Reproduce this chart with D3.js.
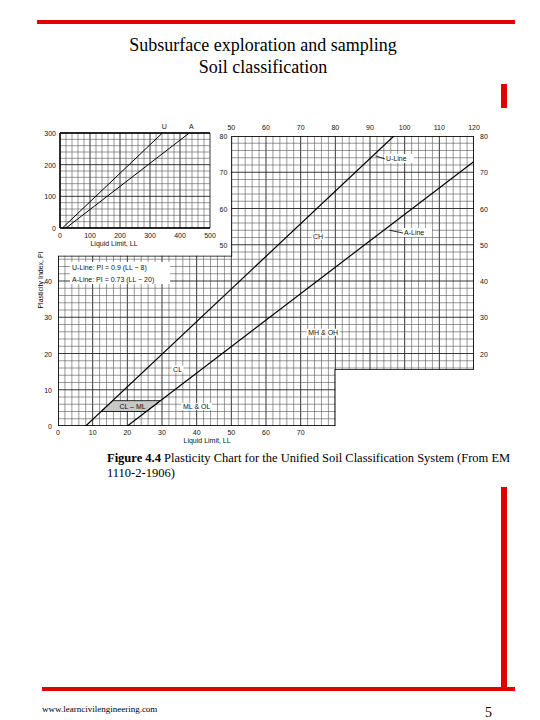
<!DOCTYPE html>
<html><head><meta charset="utf-8">
<script src="https://cdn.jsdelivr.net/npm/d3@7"></script>
<style>body{margin:0;background:#fff}</style></head>
<body><svg id="c" width="540" height="720"></svg>
<script>
const bottomTicks=[0,10,20,30,40,50,60,70];
const topTicks=[50,60,70,80,90,100,110,120];
const leftTicks=[0,10,20,30,40];
const midTicks=[50,60,70,80];
const rightTicks=[20,30,40,50,60,70,80];
const insetX=[0,100,200,300,400,500];
const insetY=[0,100,200,300];
const uLine={slope:0.9,offset:8};
const aLine={slope:0.73,offset:20};
const clMl=[[12.44,4],[15.78,7],[29.59,7],[25.48,4]];
const visibleArea=[[0,0],[80,0],[80,15.5],[120,15.5],[120,80],[50,80],[50,47],[0,47]];
const zoneLabels=[{t:"CH",x:75,y:52.5},{t:"MH & OH",x:76.5,y:26},{t:"CL",x:34.5,y:15.8},{t:"ML & OL",x:40,y:5.5},{t:"CL – ML",x:21.5,y:5.5}];

const svg=d3.select("#c");
const F="Liberation Sans, Arial, sans-serif";
const x=d3.scaleLinear([0,120],[58,474]);
const y=d3.scaleLinear([0,80],[426,136]);
const red="#e00000";
svg.append("rect").attr("x",37).attr("y",20).attr("width",478).attr("height",4).attr("fill",red);
svg.append("rect").attr("x",501).attr("y",84).attr("width",6).attr("height",24).attr("fill",red);
svg.append("rect").attr("x",501).attr("y",487).attr("width",6).attr("height",204).attr("fill",red);
svg.append("rect").attr("x",42).attr("y",687).attr("width",473).attr("height",4).attr("fill",red);
const T="Liberation Serif, Times New Roman, serif";
svg.append("text").attr("x",263).attr("y",51).attr("text-anchor","middle").attr("font-family",T).attr("font-size",18).text("Subsurface exploration and sampling");
svg.append("text").attr("x",263).attr("y",73).attr("text-anchor","middle").attr("font-family",T).attr("font-size",18).text("Soil classification");
svg.append("text").attr("x",42).attr("y",712).attr("font-family",T).attr("font-size",9).text("www.learncivilengineering.com");
svg.append("text").attr("x",485).attr("y",717).attr("font-family",T).attr("font-size",14).text("5");

const line=d3.line().x(d=>x(d[0])).y(d=>y(d[1]));
svg.append("clipPath").attr("id","va").append("path").attr("d",line(visibleArea)+"Z");
const g=svg.append("g").attr("clip-path","url(#va)");
for(let v=0;v<=120;v+=2){g.append("line").attr("x1",x(v)).attr("x2",x(v)).attr("y1",y(0)).attr("y2",y(80)).attr("stroke",v%10==0?"#222":"#555").attr("stroke-width",v%10==0?0.9:0.6);}
for(let v=0;v<=80;v+=2){g.append("line").attr("x1",x(0)).attr("x2",x(120)).attr("y1",y(v)).attr("y2",y(v)).attr("stroke",v%10==0?"#222":"#555").attr("stroke-width",v%10==0?0.9:0.6);}
g.append("path").attr("d",line(clMl)+"Z").attr("fill","#c8c8c8").attr("stroke","#000").attr("stroke-width",0.8);
const ln=(o)=>{const x0=o.offset;const x1=Math.min(120,o.offset+80/o.slope);return [[x0,0],[x1,o.slope*(x1-o.offset)]];};
g.append("path").attr("d",line(ln(uLine))).attr("stroke","#000").attr("stroke-width",1.2).attr("fill","none");
g.append("path").attr("d",line(ln(aLine))).attr("stroke","#000").attr("stroke-width",1.2).attr("fill","none");
g.append("path").attr("d",line(visibleArea)+"Z").attr("fill","none").attr("stroke","#000").attr("stroke-width",1.6);
const lab=(t,px,py,a,fs)=>svg.append("text").attr("x",px).attr("y",py).attr("text-anchor",a||"middle").attr("font-family",F).attr("font-size",fs||7).attr("fill","#111").text(t);
const boxed=(t,px,py,bg)=>{const el=lab(t,px,py);const b=el.node().getBBox();svg.append("rect").attr("x",b.x-1.5).attr("y",b.y).attr("width",b.width+3).attr("height",b.height).attr("fill",bg||"#fff");el.raise();};
bottomTicks.forEach(v=>lab(v,x(v),435));
topTicks.forEach(v=>lab(v,x(v),130));
leftTicks.forEach(v=>lab(v,52,y(v)+3,"end"));
midTicks.forEach(v=>lab(v,x(50)-4,y(v)+3,"end"));
rightTicks.forEach(v=>lab(v,x(120)+6,y(v)+3,"start"));
zoneLabels.forEach(d=>boxed(d.t,x(d.x),y(d.y)+3,d.t.startsWith("CL –")?"#c8c8c8":"#fff"));
lab("Liquid Limit, LL",x(43),443);
svg.append("text").attr("transform","translate(43,280) rotate(-90)").attr("text-anchor","middle").attr("font-family",F).attr("font-size",7).text("Plasticity Index, PI");
svg.append("rect").attr("x",70).attr("y",262).attr("width",100).attr("height",22).attr("fill","#fff");
lab("U-Line: PI = 0.9 (LL − 8)",72,270,"start");
lab("A-Line: PI = 0.73 (LL − 20)",72,282,"start");
[["U-Line",91,74.5,385,161],["A-Line",95,54,403,235]].forEach(d=>{
 svg.append("rect").attr("x",d[3]-1).attr("y",d[4]-7).attr("width",30).attr("height",9).attr("fill","#fff");
 svg.append("line").attr("x1",x(d[1])+2).attr("y1",y(d[2])).attr("x2",d[3]).attr("y2",d[4]-2).attr("stroke","#000").attr("stroke-width",0.8);
 lab(d[0],d[3]+1,d[4],"start");
});
const ix=d3.scaleLinear([0,500],[60,210]);
const iy=d3.scaleLinear([0,300],[228,133]);
const ig=svg.append("g");
for(let v=0;v<=500;v+=20)ig.append("line").attr("x1",ix(v)).attr("x2",ix(v)).attr("y1",iy(0)).attr("y2",iy(300)).attr("stroke",v%100==0?"#222":"#555").attr("stroke-width",v%100==0?0.9:0.6);
for(let v=0;v<=300;v+=20)ig.append("line").attr("x1",ix(0)).attr("x2",ix(500)).attr("y1",iy(v)).attr("y2",iy(v)).attr("stroke",v%100==0?"#222":"#555").attr("stroke-width",v%100==0?0.9:0.6);
[[0,300,500,300],[0,0,0,300],[0,0,500,0]].forEach(s=>ig.append("line").attr("x1",ix(s[0])).attr("y1",iy(s[1])).attr("x2",ix(s[2])).attr("y2",iy(s[3])).attr("stroke","#000").attr("stroke-width",1.4));
const il=d3.line().x(d=>ix(d[0])).y(d=>iy(d[1]));
[uLine,aLine].forEach((o,i)=>{const x1=o.offset+300/o.slope;ig.append("path").attr("d",il([[o.offset,0],[x1,300]])).attr("stroke","#000").attr("stroke-width",1).attr("fill","none");lab(i?"A":"U",ix(x1)+2,iy(300)-4);});
insetX.forEach(v=>lab(v,ix(v),238));
insetY.forEach(v=>lab(v,ix(0)-4,iy(v)+3,"end"));
lab("Liquid Limit, LL",ix(180),246);
svg.append("text").attr("x",107).attr("y",462).attr("font-family",T).attr("font-size",12.5).html('<tspan font-weight="bold">Figure 4.4</tspan>   Plasticity Chart for the Unified Soil Classification System (From EM');
svg.append("text").attr("x",107).attr("y",477).attr("font-family",T).attr("font-size",12.5).text("1110-2-1906)");
</script></body></html>
